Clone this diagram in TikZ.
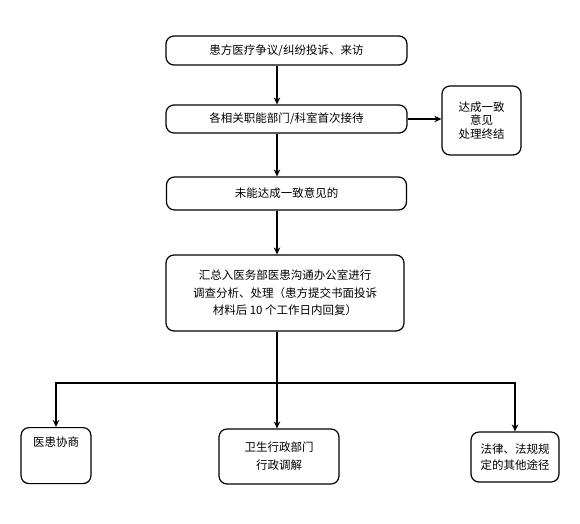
\documentclass[tikz,border=0pt]{standalone}
\usepackage{fontspec}
\setmainfont{Noto Sans CJK SC}
\usetikzlibrary{arrows.meta, positioning}
\tikzset{
  stage/.style={draw, rounded corners=8pt, line width=1.2pt, align=center, inner sep=4pt, font=\fontsize{11.5}{17.5}\selectfont},
  link/.style={-{Stealth[length=7pt,width=6.5pt]}, line width=1.6pt},
}

\begin{document}
\begin{tikzpicture}[x=1pt, y=-1pt]
  \useasboundingbox (0,0) rectangle (580,523);
  \node[stage, minimum width=241pt, minimum height=29pt] (visit) at (286.5,50.5) {患方医疗争议/纠纷投诉、来访};
  \node[stage, minimum width=241pt, minimum height=28pt] (reception) at (286.5,119) {各相关职能部门/科室首次接待};
  \node[stage, minimum width=79pt, minimum height=69pt, font=\fontsize{11.5}{13.5}\selectfont] (agree) at (481.5,120.5) {达成一致\\意见\\处理终结};
  \node[stage, minimum width=240pt, minimum height=33pt] (fail) at (286.5,193.5) {未能达成一致意见的};
  \node[stage, minimum width=238pt, minimum height=76pt] (summary) at (285,293) {汇总入医务部医患沟通办公室进行\\调查分析、处理（患方提交书面投诉\\材料后 10 个工作日内回复）};

  \node[stage, anchor=north, minimum width=70pt, inner ysep=6pt, text height=13pt, text depth=31pt] (consult) at (56,427) {医患协商};
  \node[stage, minimum width=120pt, minimum height=55pt, font=\fontsize{11.5}{18}\selectfont] (mediate) at (279,456.5) {卫生行政部门\\行政调解};
  \node[stage, minimum width=88pt, minimum height=50pt, font=\fontsize{11.5}{15.5}\selectfont] (legal) at (515,457) {法律、法规规\\定的其他途径};

  \coordinate (spine) at (277,0);
  \coordinate (fork) at (277,383);

  \draw[link] (visit.south -| spine) -- (reception.north -| spine);
  \draw[link] (reception.east) -- (reception.east -| agree.west);
  \draw[link] (reception.south -| spine) -- (fail.north -| spine);
  \draw[link] (fail.south -| spine) -- (summary.north -| spine);
  \draw[link] (summary.south -| spine) -- (mediate.north -| spine);
  \draw[link] (fork) -| (consult.north);
  \draw[link] (fork) -| (legal.north);
\end{tikzpicture}
\end{document}
